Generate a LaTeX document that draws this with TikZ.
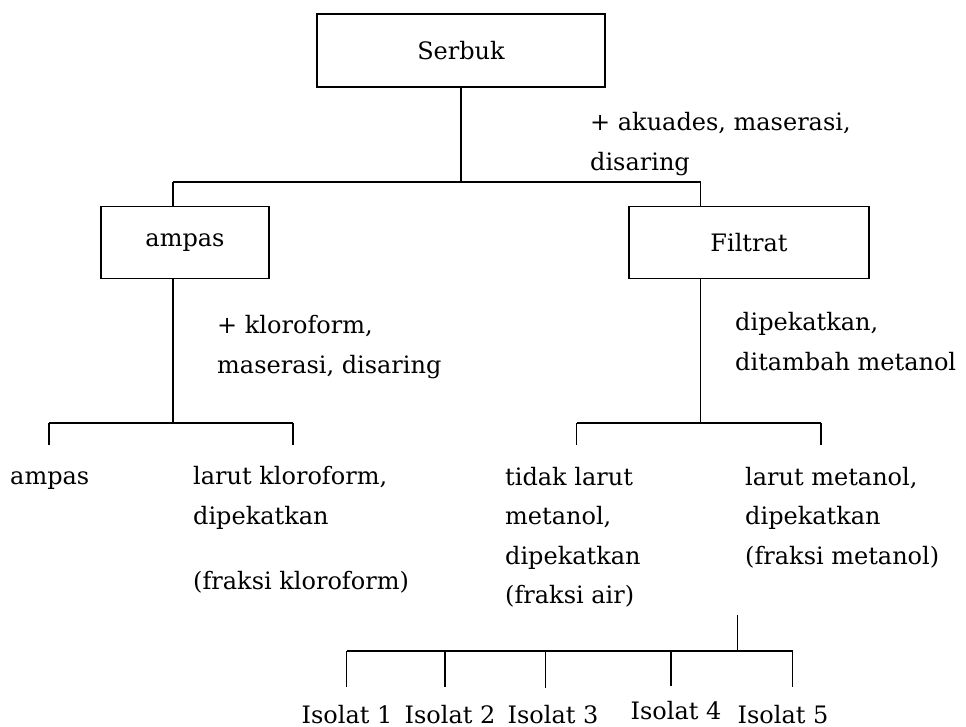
\documentclass[tikz,border=0pt]{standalone}
\usepackage{fontspec}
\setmainfont{DejaVu Serif}
\begin{document}
\begin{tikzpicture}[x=1pt,y=-1pt,
  box/.style={draw,line width=1.2pt,inner sep=0pt},
  lbl/.style={anchor=base west,inner sep=0pt},
  iso/.style={anchor=base,inner sep=0pt,text depth=0pt},
  ln/.style={line width=1.2pt}]
\useasboundingbox (0,0) rectangle (966,727);
\tikzset{every node/.append style={font=\fontsize{24}{28}\selectfont}}
% boxes
\node[box,minimum width=288pt,minimum height=73pt] (serbuk) at (461,50.5) {Serbuk};
\node[box,minimum width=168pt,minimum height=72pt] (ampas) at (185,242.5) {ampas};
\node[box,minimum width=240pt,minimum height=72pt] (filtrat) at (749,242.5) {Filtrat};
% step labels
\node[lbl] (s1a) at (590,131) {+ akuades, maserasi,};
\node[lbl] (s1b) at (590,171) {disaring};
\node[lbl] (s2a) at (217,333) {+ kloroform,};
\node[lbl] (s2b) at (217,373) {maserasi, disaring};
\node[lbl] (s3a) at (735,330) {dipekatkan,};
\node[lbl] (s3b) at (735,370) {ditambah metanol};
% results
\node[lbl] (r1) at (10,484) {ampas};
\node[lbl] (r2a) at (193,484) {larut kloroform,};
\node[lbl] (r2b) at (193,524) {dipekatkan};
\node[lbl] (r2c) at (193,589) {(fraksi kloroform)};
\node[lbl] (r3a) at (505,485) {tidak larut};
\node[lbl] (r3b) at (505,524) {metanol,};
\node[lbl] (r3c) at (505,564) {dipekatkan};
\node[lbl] (r3d) at (505,603) {(fraksi air)};
\node[lbl] (r4a) at (745,485) {larut metanol,};
\node[lbl] (r4b) at (745,524) {dipekatkan};
\node[lbl] (r4c) at (745,564) {(fraksi metanol)};
% isolates
\node[iso] (i1) at (347,723) {Isolat 1};
\node[iso] (i2) at (450,723) {Isolat 2};
\node[iso] (i3) at (553,723) {Isolat 3};
\node[iso] (i4) at (676,719) {Isolat 4};
\node[iso] (i5) at (783,723) {Isolat 5};
% junction coordinates
\coordinate (j1) at (461,182);
\coordinate (jl) at (173,182);
\coordinate (jr) at (700.7,182);
\coordinate (j2) at (173,423);
\coordinate (j2l) at (49,423);
\coordinate (j2r) at (293,423);
\coordinate (j3) at (700.7,423);
\coordinate (j3l) at (576.7,423);
\coordinate (j3r) at (821,423);
\coordinate (k0) at (737.3,615);
\coordinate (k) at (737.3,651);
\coordinate (k1) at (346.7,651);
\coordinate (k2) at (445,651);
\coordinate (k3) at (545.7,651);
\coordinate (k4) at (671,651);
\coordinate (k5) at (792.7,651);
% connectors
\draw[ln] (serbuk.south) -- (j1);
\draw[ln] (jl) -- (jr);
\draw[ln] (jl) -- (jl |- ampas.north);
\draw[ln] (jr) -- (jr |- filtrat.north);
\draw[ln] (j2 |- ampas.south) -- (j2);
\draw[ln] (j2l) -- (j2r);
\draw[ln] (j2l) -- ++(0,22);
\draw[ln] (j2r) -- ++(0,22);
\draw[ln] (j3 |- filtrat.south) -- (j3);
\draw[ln] (j3l) -- (j3r);
\draw[ln] (j3l) -- ++(0,22);
\draw[ln] (j3r) -- ++(0,22);
\draw[ln] (k0) -- (k);
\draw[ln] (k1) -- (k5);
\draw[ln] (k1) -- ++(0,36);
\draw[ln] (k2) -- ++(0,36);
\draw[ln] (k3) -- ++(0,37);
\draw[ln] (k4) -- ++(0,35);
\draw[ln] (k5) -- ++(0,36);
\end{tikzpicture}
\end{document}
